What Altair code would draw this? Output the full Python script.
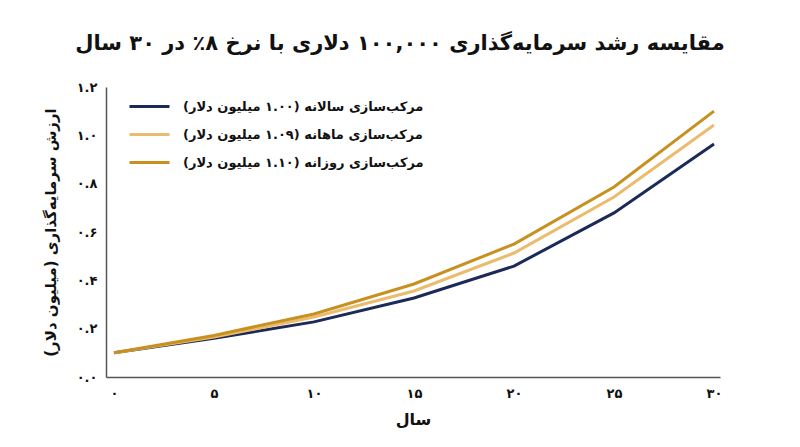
import altair as alt
import pandas as pd

RLM = "\u200f"

title_text = "مقایسه رشد سرمایه‌گذاری ۱۰۰,۰۰۰ دلاری با نرخ ۸٪ در ۳۰ سال"
x_title = "سال"
y_title = "ارزش سرمایه‌گذاری (میلیون دلار)"

years = [0, 5, 10, 15, 20, 25, 30]
annual = [0.10, 0.160, 0.228, 0.327, 0.459, 0.679, 0.964]
monthly = [0.10, 0.165, 0.248, 0.356, 0.513, 0.745, 1.043]
daily = [0.10, 0.172, 0.261, 0.385, 0.550, 0.786, 1.100]

series_names = [
    "مرکب‌سازی سالانه (۱.۰۰ میلیون دلار)" + RLM,
    "مرکب‌سازی ماهانه (۱.۰۹ میلیون دلار)" + RLM,
    "مرکب‌سازی روزانه (۱.۱۰ میلیون دلار)" + RLM,
]
series_colors = ["#1b2a57", "#ebbb6e", "#c8901f"]

x_ticks = [0, 5, 10, 15, 20, 25, 30]
x_tick_labels = ["۰", "۵", "۱۰", "۱۵", "۲۰", "۲۵", "۳۰"]
y_ticks = [0.0, 0.2, 0.4, 0.6, 0.8, 1.0, 1.2]
y_tick_labels = ["۰.۰", "۰.۲", "۰.۴", "۰.۶", "۰.۸", "۱.۰", "۱.۲"]

rows = []
for k, (name, vals) in enumerate(zip(series_names, [annual, monthly, daily])):
    for yr, v in zip(years, vals):
        rows.append({"year": yr, "value": v, "series": name, "k": k})
df = pd.DataFrame(rows)


def label_expr(ticks, labels):
    e = ""
    for t, l in zip(ticks, labels):
        e += f"abs(datum.value - {t}) < 0.001 ? '{l}' : "
    return e + "''"


FONT = "DejaVu Sans"

chart = (
    alt.Chart(df)
    .mark_line(strokeWidth=3)
    .encode(
        x=alt.X(
            "year:Q",
            scale=alt.Scale(domain=[-0.4, 30.3], nice=False, zero=False),
            axis=alt.Axis(
                title=x_title,
                values=x_ticks,
                labelExpr=label_expr(x_ticks, x_tick_labels),
                grid=False,
                ticks=False,
                domainColor="#555555",
                domainWidth=1.5,
                labelFont=FONT,
                labelFontSize=13,
                labelFontWeight="bold",
                labelColor="#111111",
                labelPadding=10,
                titleFont=FONT,
                titleFontSize=16,
                titleFontWeight="bold",
                titleColor="#111111",
                titlePadding=11,
            ),
        ),
        y=alt.Y(
            "value:Q",
            scale=alt.Scale(domain=[0, 1.2], nice=False),
            axis=alt.Axis(
                title=y_title,
                values=y_ticks,
                labelExpr=label_expr(y_ticks, y_tick_labels),
                grid=False,
                ticks=False,
                domainColor="#555555",
                domainWidth=1.5,
                labelFont=FONT,
                labelFontSize=13,
                labelFontWeight="bold",
                labelColor="#111111",
                labelPadding=9,
                titleFont=FONT,
                titleFontSize=15,
                titleFontWeight="bold",
                titleColor="#111111",
                titlePadding=18,
            ),
        ),
        color=alt.Color(
            "series:N",
            scale=alt.Scale(domain=series_names, range=series_colors),
            legend=alt.Legend(
                title=None,
                orient="none",
                legendX=32,
                legendY=8,
                padding=0,
                symbolType="M-2,0L2,0",
                symbolSize=400,
                symbolStrokeWidth=3,
                labelOffset=22,
                rowPadding=9,
                labelFont=FONT,
                labelFontSize=13,
                labelFontWeight="bold",
                labelColor="#111111",
                labelLimit=400,
            ),
        ),
        order="k:Q",
    )
    .properties(
        width=614,
        height=290,
        padding={"left": 98, "top": 79, "right": 70, "bottom": 60},
        autosize=alt.AutoSizeParams(type="none"),
        title=alt.TitleParams(
            text=title_text,
            font=FONT,
            fontSize=21,
            fontWeight="bold",
            color="#111111",
            anchor="middle",
            frame="group",
            baseline="middle",
            offset=16,
            dx=-13,
        ),
    )
    .configure_view(stroke=None)
)

chart.save("out.html", embed_options={"renderer": "svg", "actions": False})
